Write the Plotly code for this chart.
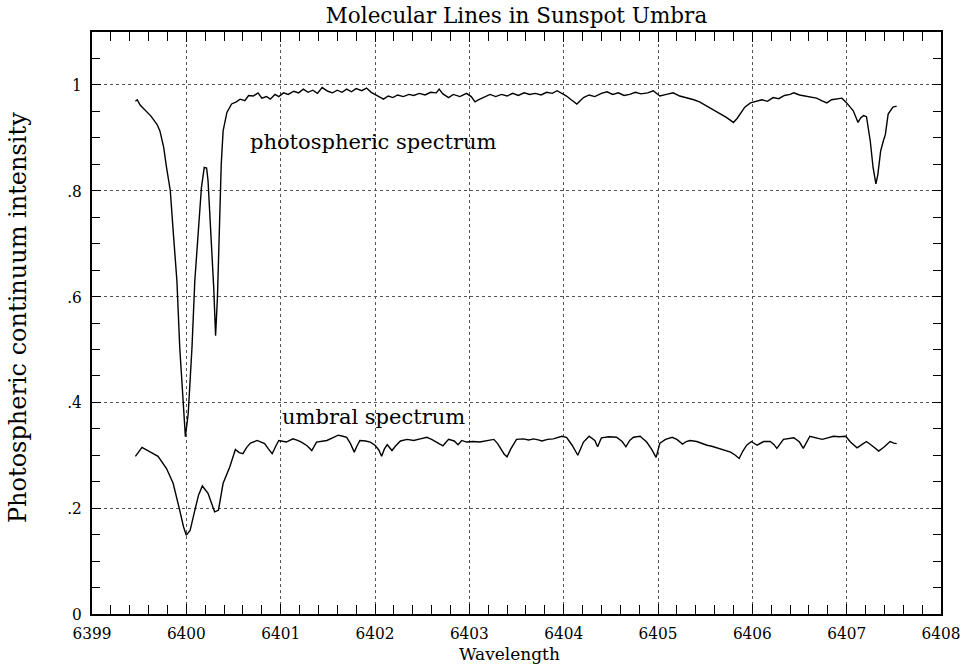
import plotly.graph_objects as go

# ---------------- data ----------------
phot_wl = [6399.46, 6399.48, 6399.51, 6399.55, 6399.58, 6399.62, 6399.65, 6399.69, 6399.72, 6399.76,
           6399.79, 6399.83, 6399.86, 6399.90, 6399.93, 6399.97, 6399.99, 6400.02, 6400.06, 6400.09,
           6400.13, 6400.16, 6400.19, 6400.215, 6400.23, 6400.26, 6400.29, 6400.31, 6400.33, 6400.35,
           6400.37, 6400.39, 6400.43, 6400.48, 6400.53, 6400.57, 6400.62, 6400.66, 6400.71, 6400.76,
           6400.80, 6400.85, 6400.89, 6400.94, 6400.98, 6401.03, 6401.08, 6401.14, 6401.19, 6401.24,
           6401.29, 6401.34, 6401.39, 6401.44, 6401.50, 6401.55, 6401.60, 6401.65, 6401.70, 6401.75,
           6401.80, 6401.86, 6401.91, 6401.96, 6402.00, 6402.05, 6402.09, 6402.14, 6402.19, 6402.24,
           6402.30, 6402.36, 6402.41, 6402.47, 6402.53, 6402.59, 6402.65, 6402.68, 6402.72, 6402.78,
           6402.83, 6402.90, 6402.97, 6403.02, 6403.06, 6403.10, 6403.16, 6403.22, 6403.28, 6403.34,
           6403.40, 6403.46, 6403.52, 6403.58, 6403.64, 6403.70, 6403.76, 6403.82, 6403.88, 6403.93,
           6403.98, 6404.03, 6404.08, 6404.14, 6404.21, 6404.27, 6404.33, 6404.40, 6404.46, 6404.52,
           6404.58, 6404.64, 6404.70, 6404.76, 6404.82, 6404.89, 6404.95, 6405.02, 6405.09, 6405.16,
           6405.23, 6405.31, 6405.38, 6405.44, 6405.48, 6405.54, 6405.60, 6405.66, 6405.72, 6405.77,
           6405.80, 6405.84, 6405.87, 6405.92, 6405.98, 6406.05, 6406.10, 6406.16, 6406.22, 6406.28,
           6406.34, 6406.40, 6406.44, 6406.50, 6406.56, 6406.62, 6406.68, 6406.74, 6406.79, 6406.84,
           6406.90, 6406.95, 6407.00, 6407.04, 6407.07, 6407.10, 6407.12, 6407.15, 6407.18, 6407.21,
           6407.23, 6407.25, 6407.28, 6407.31, 6407.33, 6407.36, 6407.39, 6407.41, 6407.44, 6407.49,
           6407.53]
phot_val = [0.969, 0.972, 0.962, 0.955, 0.948, 0.942, 0.935, 0.925, 0.913, 0.882,
            0.844, 0.800, 0.725, 0.630, 0.504, 0.379, 0.335, 0.379, 0.504, 0.630,
            0.743, 0.806, 0.844, 0.843, 0.819, 0.725, 0.618, 0.526, 0.599, 0.725,
            0.850, 0.913, 0.948, 0.964, 0.968, 0.973, 0.970, 0.980, 0.979, 0.985,
            0.975, 0.978, 0.973, 0.982, 0.978, 0.985, 0.982, 0.988, 0.985, 0.992,
            0.986, 0.990, 0.984, 0.995, 0.988, 0.985, 0.990, 0.986, 0.992, 0.987,
            0.993, 0.989, 0.994, 0.986, 0.982, 0.976, 0.973, 0.979, 0.976, 0.981,
            0.978, 0.982, 0.980, 0.984, 0.981, 0.986, 0.985, 0.992, 0.983, 0.976,
            0.982, 0.978, 0.984, 0.978, 0.968, 0.972, 0.977, 0.982, 0.978, 0.982,
            0.979, 0.984, 0.980, 0.985, 0.982, 0.984, 0.981, 0.986, 0.984, 0.989,
            0.984, 0.979, 0.972, 0.964, 0.976, 0.981, 0.978, 0.984, 0.987, 0.982,
            0.985, 0.980, 0.982, 0.986, 0.983, 0.985, 0.989, 0.979, 0.982, 0.985,
            0.979, 0.976, 0.972, 0.968, 0.964, 0.958, 0.951, 0.945, 0.939, 0.933,
            0.929, 0.937, 0.945, 0.958, 0.966, 0.970, 0.972, 0.969, 0.976, 0.974,
            0.980, 0.982, 0.985, 0.981, 0.979, 0.977, 0.975, 0.970, 0.966, 0.972,
            0.974, 0.975, 0.966, 0.958, 0.951, 0.938, 0.929, 0.938, 0.942, 0.940,
            0.918, 0.894, 0.844, 0.813, 0.830, 0.875, 0.895, 0.906, 0.945, 0.958,
            0.960]

umb_wl = [6399.46, 6399.53, 6399.62, 6399.70, 6399.79, 6399.86, 6399.93, 6399.97, 6400.00, 6400.04,
          6400.09, 6400.13, 6400.17, 6400.23, 6400.27, 6400.30, 6400.34, 6400.39, 6400.46, 6400.52,
          6400.56, 6400.60, 6400.64, 6400.68, 6400.75, 6400.79, 6400.83, 6400.87, 6400.91, 6400.95,
          6400.98, 6401.06, 6401.13, 6401.18, 6401.22, 6401.28, 6401.33, 6401.38, 6401.44, 6401.49,
          6401.55, 6401.61, 6401.66, 6401.70, 6401.74, 6401.78, 6401.81, 6401.84, 6401.90, 6401.95,
          6402.00, 6402.04, 6402.07, 6402.10, 6402.13, 6402.18, 6402.22, 6402.27, 6402.34, 6402.41,
          6402.48, 6402.55, 6402.60, 6402.65, 6402.72, 6402.78, 6402.84, 6402.88, 6402.92, 6402.97,
          6403.04, 6403.11, 6403.18, 6403.26, 6403.30, 6403.34, 6403.37, 6403.40, 6403.44, 6403.50,
          6403.57, 6403.63, 6403.68, 6403.73, 6403.77, 6403.83, 6403.89, 6403.98, 6404.03, 6404.09,
          6404.15, 6404.21, 6404.27, 6404.33, 6404.36, 6404.40, 6404.48, 6404.56, 6404.62, 6404.66,
          6404.70, 6404.74, 6404.81, 6404.88, 6404.93, 6404.98, 6405.02, 6405.08, 6405.15, 6405.20,
          6405.26, 6405.30, 6405.34, 6405.41, 6405.47, 6405.52, 6405.57, 6405.62, 6405.68, 6405.73,
          6405.77, 6405.82, 6405.86, 6405.90, 6405.94, 6405.99, 6406.05, 6406.12, 6406.19, 6406.23,
          6406.26, 6406.33, 6406.44, 6406.50, 6406.54, 6406.61, 6406.67, 6406.74, 6406.80, 6406.86,
          6406.92, 6406.99, 6407.04, 6407.11, 6407.16, 6407.21, 6407.27, 6407.34, 6407.40, 6407.46,
          6407.50, 6407.53]
umb_val = [0.298, 0.315, 0.306, 0.298, 0.275, 0.247, 0.196, 0.165, 0.149, 0.158,
           0.196, 0.225, 0.242, 0.228, 0.208, 0.193, 0.196, 0.247, 0.278, 0.311,
           0.305, 0.303, 0.315, 0.323, 0.328, 0.325, 0.322, 0.312, 0.303, 0.318,
           0.328, 0.325, 0.331, 0.328, 0.325, 0.318, 0.309, 0.325, 0.326, 0.328,
           0.333, 0.338, 0.336, 0.334, 0.322, 0.306, 0.318, 0.328, 0.327, 0.325,
           0.319, 0.310, 0.298, 0.312, 0.320, 0.309, 0.318, 0.327, 0.330, 0.328,
           0.331, 0.334, 0.330, 0.325, 0.318, 0.330, 0.327, 0.320, 0.328, 0.325,
           0.326, 0.325, 0.328, 0.330, 0.322, 0.310, 0.302, 0.297, 0.312, 0.330,
           0.331, 0.329, 0.331, 0.329, 0.327, 0.330, 0.331, 0.336, 0.334, 0.319,
           0.300, 0.325, 0.336, 0.328, 0.316, 0.333, 0.335, 0.334, 0.326, 0.316,
           0.328, 0.334, 0.336, 0.325, 0.312, 0.296, 0.323, 0.330, 0.334, 0.330,
           0.321, 0.326, 0.328, 0.326, 0.322, 0.319, 0.317, 0.314, 0.311, 0.308,
           0.306, 0.300, 0.294, 0.308, 0.319, 0.326, 0.319, 0.326, 0.326, 0.320,
           0.313, 0.330, 0.333, 0.325, 0.313, 0.336, 0.333, 0.330, 0.333, 0.336,
           0.335, 0.336, 0.325, 0.314, 0.320, 0.326, 0.318, 0.308, 0.316, 0.326,
           0.323, 0.322]

x_tickvals = [6399, 6400, 6401, 6402, 6403, 6404, 6405, 6406, 6407, 6408]
x_ticktext = ["6399", "6400", "6401", "6402", "6403", "6404", "6405", "6406", "6407", "6408"]
y_tickvals = [0, 0.2, 0.4, 0.6, 0.8, 1.0]
y_ticktext = ["0", ".2", ".4", ".6", ".8", "1"]

title_text = "Molecular Lines in Sunspot Umbra"
x_title = "Wavelength"
y_title = "Photospheric continuum intensity"
label_phot = "photospheric spectrum"
label_umb = "umbral spectrum"

SERIF = "DejaVu Serif, serif"
COND = "DejaVu Serif Condensed, DejaVu Serif, serif"

fig = go.Figure()
fig.add_trace(go.Scatter(x=phot_wl, y=phot_val, mode="lines",
                         line=dict(color="black", width=1.4), showlegend=False, hoverinfo="skip"))
fig.add_trace(go.Scatter(x=umb_wl, y=umb_val, mode="lines",
                         line=dict(color="black", width=1.4), showlegend=False, hoverinfo="skip"))

fig.add_annotation(x=6400.65, y=0.893, xref="x", yref="y", text=label_phot, showarrow=False,
                   xanchor="left", yanchor="middle", font=dict(family=SERIF, size=21, color="black"))
fig.add_annotation(x=6400.99, y=0.372, xref="x", yref="y", text=label_umb, showarrow=False,
                   xanchor="left", yanchor="middle", font=dict(family=SERIF, size=21, color="black"))
# axis titles as plain text placed outside the plotting area
fig.add_annotation(x=-0.088, y=0.509, xref="paper", yref="paper", text=y_title, showarrow=False,
                   textangle=-90, xanchor="center", yanchor="middle",
                   font=dict(family=SERIF, size=24, color="black"))
fig.add_annotation(x=0.492, y=-0.0695, xref="paper", yref="paper", text=x_title, showarrow=False,
                   xanchor="center", yanchor="middle", borderpad=0,
                   font=dict(family=SERIF, size=17, color="black"))

axis_common = dict(showline=True, linecolor="black", linewidth=1.5, mirror="allticks",
                   ticks="inside", tickcolor="black", showgrid=True, gridcolor="#555555",
                   griddash="dot", gridwidth=1, zeroline=False,
                   tickfont=dict(family=COND, size=17, color="black"))

fig.update_xaxes(range=[6399, 6408], tickmode="array", tickvals=x_tickvals, ticktext=x_ticktext,
                 ticklen=10, tickwidth=1, ticklabelstandoff=3,
                 minor=dict(tickmode="linear", tick0=6399, dtick=0.2, ticks="inside", ticklen=9,
                            tickcolor="black", tickwidth=1, showgrid=False),
                 **axis_common)
fig.update_yaxes(range=[0, 1.1], tickmode="array", tickvals=y_tickvals, ticktext=y_ticktext,
                 ticklen=9, tickwidth=1, ticklabelstandoff=5,
                 minor=dict(tickmode="linear", tick0=0, dtick=0.05, ticks="inside", ticklen=8,
                            tickcolor="black", tickwidth=1, showgrid=False),
                 **axis_common)

fig.update_layout(
    width=974, height=664,
    margin=dict(l=92, r=33, t=32, b=50, autoexpand=False),
    paper_bgcolor="white", plot_bgcolor="white",
    title=dict(text=title_text, x=(92 + 941) / 2 / 974, xanchor="center", y=1 - 15 / 664,
               yanchor="middle", font=dict(family=SERIF, size=21.5, color="black")),
)

fig.write_html("out.html")
